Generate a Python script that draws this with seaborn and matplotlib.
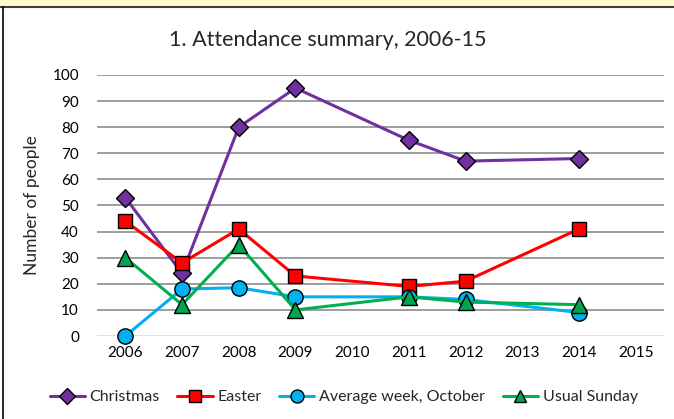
import numpy as np
import pandas as pd
import seaborn as sns
import matplotlib.pyplot as plt
from matplotlib.patches import Rectangle
from matplotlib.lines import Line2D

# data ########################################################################
years = ['2006', '2007', '2008', '2009', '2010', '2011', '2012', '2013', '2014', '2015']
christmas = [53, 24, 80, 95, np.nan, 75, 67, np.nan, 68, np.nan]
easter = [44, 28, 41, 23, np.nan, 19, 21, np.nan, 41, np.nan]
avg_week_oct = [0, 18, 18.5, 15, np.nan, 15, 14, np.nan, 9, np.nan]
usual_sunday = [30, 12, 35, 10, np.nan, 15, 13, np.nan, 12, np.nan]

series = {'Christmas': christmas, 'Easter': easter,
          'Average week, October': avg_week_oct, 'Usual Sunday': usual_sunday}
styles = {'Christmas': ('#7030A0', '#7030A0', 'D', 9),
          'Easter': ('#FF0000', '#FF0000', 's', 10),
          'Average week, October': ('#00B0F0', '#00B0F0', 'o', 11),
          'Usual Sunday': ('#00B050', '#00A550', '^', 11)}

sns.set_theme(style='white')
plt.rcParams['font.family'] = ['Lato', 'DejaVu Sans']

fig = plt.figure(figsize=(6.74, 4.19), dpi=100)
# yellow strip and frame of the screenshot #####################################
fig.patches.append(Rectangle((0, 1 - 7 / 419), 1, 7 / 419, transform=fig.transFigure,
                             facecolor='#FFFBCC', edgecolor='none'))
fig.add_artist(Line2D([0, 1], [1 - 7.5 / 419] * 2, color='#404040', lw=1.5))
fig.add_artist(Line2D([2.5 / 674] * 2, [0, 1 - 7.5 / 419], color='black', lw=1.2))

ax = fig.add_axes([97 / 674, 1 - 336 / 419, (664 - 97) / 674, (336 - 75) / 419])

# long format for seaborn
rows = []
for name, vals in series.items():
    for i, v in enumerate(vals):
        rows.append({'x': i, 'year': years[i], 'value': v, 'series': name})
df = pd.DataFrame(rows).dropna()

for name in series:
    line_c, face_c, mk, ms = styles[name]
    sub = df[df['series'] == name]
    sns.lineplot(data=sub, x='x', y='value', ax=ax, color=line_c, lw=2.2,
                 marker=mk, markersize=ms, markerfacecolor=face_c,
                 markeredgecolor='black', markeredgewidth=1, label=name,
                 clip_on=False, legend=False)

ax.set_xlim(-0.5, len(years) - 0.5)
ax.set_ylim(0, 100)
ax.set_yticks(range(0, 101, 10))
ax.set_xticks(range(len(years)))
ax.set_xticklabels(years)
for y in range(10, 101, 10):
    ax.axhline(y, color='#8C8C8C', lw=1.2, zorder=0)
ax.axhline(0, color='#D9D9D9', lw=1.2, zorder=0)
for s in ax.spines.values():
    s.set_visible(False)
ax.tick_params(axis='both', length=0, labelsize=11, colors='black')
ax.tick_params(axis='y', pad=13)
ax.tick_params(axis='x', pad=7)
ax.set_xlabel('')
ax.set_ylabel('Number of people', fontsize=12.5, labelpad=9)

fig.text(0.487, 1 - 40 / 419, '1. Attendance summary, 2006-15', ha='center', va='center',
         fontsize=15.5)

handles, labels = ax.get_legend_handles_labels()
fig.legend(handles, labels, loc='center', bbox_to_anchor=(0.51, 1 - 397 / 419), ncol=4,
           frameon=False, fontsize=11.5, handlelength=2.2, handletextpad=0.3,
           columnspacing=1.1, markerscale=0.85)

fig.savefig('out.png', dpi=100)
